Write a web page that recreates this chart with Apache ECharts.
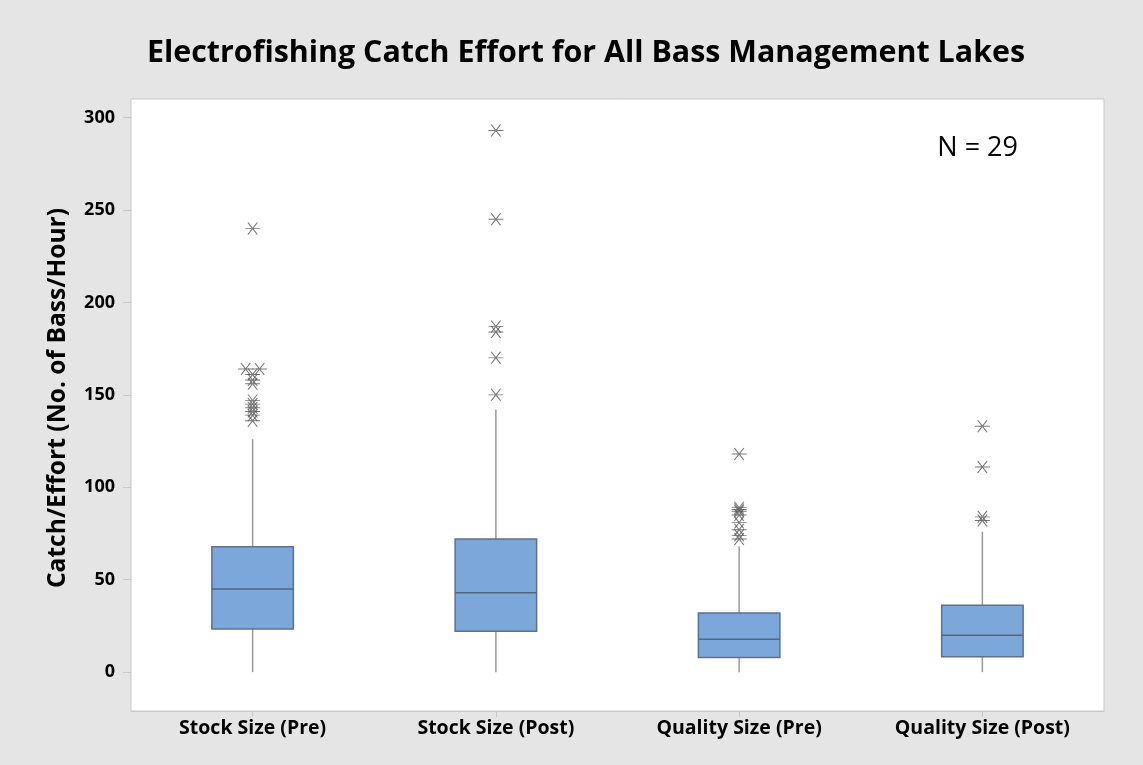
<!DOCTYPE html>
<html>
<head>
<meta charset="utf-8">
<script src="https://cdn.jsdelivr.net/npm/echarts@6/dist/echarts.min.js"></script>
<style>
html,body{margin:0;padding:0;background:#e5e5e5;}
#c{width:1143px;height:765px;}
</style>
</head>
<body>
<div id="c"></div>
<script>
const categories = ['Stock Size (Pre)', 'Stock Size (Post)', 'Quality Size (Pre)', 'Quality Size (Post)'];
const whiskerLow = [0, 0, 0, 0];
const q1 = [23.4, 22.2, 8.0, 8.3];
const median = [45.0, 43.0, 17.8, 20.0];
const q3 = [67.8, 72.0, 32.0, 36.2];
const whiskerHigh = [126, 142, 68, 76];
const outliersStockPre = [240, 164, 164, 161, 158, 156, 147, 145, 143, 141, 139, 136];
const outliersStockPost = [293, 245, 187, 184, 170, 150];
const outliersQualityPre = [118, 89, 88, 87, 85, 81, 77, 74, 72];
const outliersQualityPost = [133, 111, 84, 82];
const yTicks = [0, 50, 100, 150, 200, 250, 300];

const allOutliers = [outliersStockPre, outliersStockPost, outliersQualityPre, outliersQualityPost];
const outlierData = [];
allOutliers.forEach((arr, i) => {
  const seen = {};
  arr.forEach(v => { seen[v] = (seen[v] || 0) + 1; });
  const used = {};
  arr.forEach(v => {
    const item = { value: [i, v] };
    if (seen[v] > 1) {
      used[v] = (used[v] || 0);
      item.symbolOffset = [used[v] === 0 ? -7 : 7, 0];
      used[v]++;
    }
    outlierData.push(item);
  });
});

const boxData = categories.map((c, i) => [i, whiskerLow[i], q1[i], median[i], q3[i], whiskerHigh[i]]);

const chart = echarts.init(document.getElementById('c'));
chart.setOption({
  backgroundColor: '#e5e5e5',
  animation: false,
  title: {
    text: 'Electrofishing Catch Effort for All Bass Management Lakes',
    left: 581, textAlign: 'center', top: 33,
    textStyle: { fontFamily: 'Open Sans', fontWeight: 'bold', fontSize: 30.4, color: '#000' }
  },
  grid: { left: 131, right: 39, top: 99, bottom: 54, show: true, backgroundColor: '#fff', borderColor: '#c8c8c8', borderWidth: 1 },
  xAxis: {
    type: 'category', data: categories,
    axisLine: { show: true, onZero: false, lineStyle: { color: '#c8c8c8' } },
    axisTick: { show: true, alignWithLabel: true, length: 6, lineStyle: { color: '#c8c8c8' } },
    axisLabel: { fontFamily: 'Open Sans', fontWeight: 'bold', fontSize: 19.5, color: '#000', margin: 7 },
    splitLine: { show: false }
  },
  yAxis: {
    type: 'value', min: -21, max: 310,
    name: 'Catch/Effort (No. of Bass/Hour)', nameLocation: 'middle', nameGap: 61, nameRotate: 90,
    nameTextStyle: { fontFamily: 'Open Sans', fontWeight: 'bold', fontSize: 24.6, color: '#000', padding: [0, 0, 0, 14] },
    axisLine: { show: false },
    axisTick: { show: true, length: 8, lineStyle: { color: '#c8c8c8' }, customValues: yTicks },
    axisLabel: { fontFamily: 'Open Sans', fontWeight: 'bold', fontSize: 18, color: '#000', margin: 16, customValues: yTicks },
    splitLine: { show: false }
  },
  graphic: [
    { type: 'text', right: 125, top: 135, style: { text: 'N = 29', font: '27px "Open Sans"', fill: '#000' } }
  ],
  series: [
    {
      type: 'custom',
      data: boxData,
      encode: { x: 0, y: [1, 2, 3, 4, 5] },
      renderItem: function (params, api) {
        const i = api.value(0);
        const pLow = api.coord([i, api.value(1)]);
        const pQ1 = api.coord([i, api.value(2)]);
        const pMed = api.coord([i, api.value(3)]);
        const pQ3 = api.coord([i, api.value(4)]);
        const pHigh = api.coord([i, api.value(5)]);
        const w = api.size([1, 0])[0] * 0.335;
        const x = pQ1[0];
        return {
          type: 'group',
          children: [
            { type: 'line', shape: { x1: x, y1: pLow[1], x2: x, y2: pQ1[1] }, style: { stroke: '#9a9a9a', lineWidth: 1.5 } },
            { type: 'line', shape: { x1: x, y1: pQ3[1], x2: x, y2: pHigh[1] }, style: { stroke: '#9a9a9a', lineWidth: 1.5 } },
            { type: 'rect', shape: { x: x - w / 2, y: pQ3[1], width: w, height: pQ1[1] - pQ3[1] }, style: { fill: '#7ca7da', stroke: '#5d7090', lineWidth: 1.5 } },
            { type: 'line', shape: { x1: x - w / 2, y1: pMed[1], x2: x + w / 2, y2: pMed[1] }, style: { stroke: '#53667f', lineWidth: 1.5 } }
          ]
        };
      }
    },
    {
      type: 'scatter',
      data: outlierData,
      symbol: 'path://M0,6L16,6M3,0L13,12M13,0L3,12',
      symbolSize: [15, 12],
      itemStyle: { color: 'rgba(0,0,0,0)', borderColor: '#555555', borderWidth: 1 }
    }
  ]
});
</script>
</body>
</html>
